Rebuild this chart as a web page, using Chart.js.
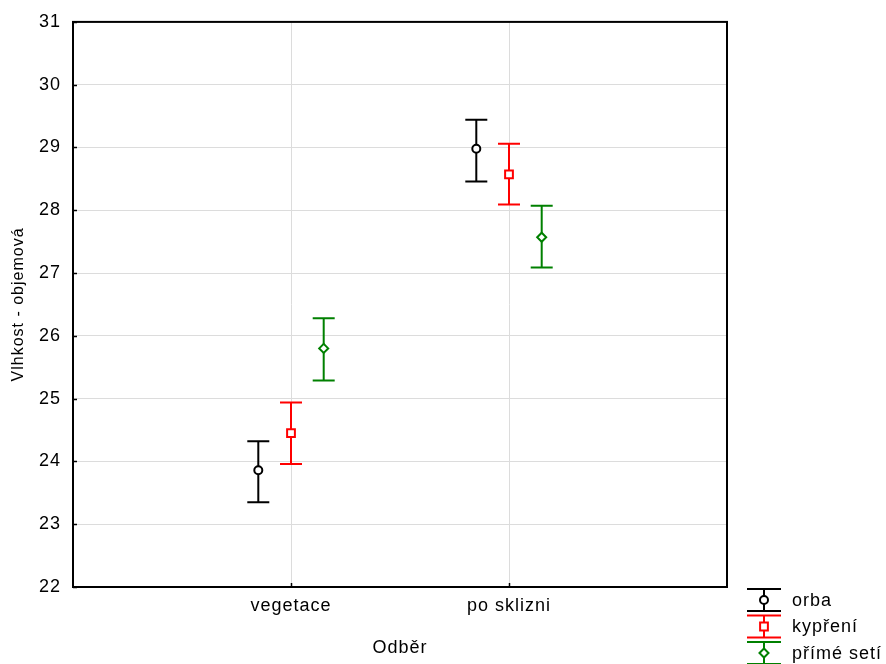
<!DOCTYPE html>
<html>
<head>
<meta charset="utf-8">
<script src="https://cdn.jsdelivr.net/npm/chart.js@4.4.1/dist/chart.umd.min.js"></script>
<style>
  html, body { margin: 0; padding: 0; background: #fff; }
</style>
</head>
<body>
<canvas id="myChart" width="886" height="664"></canvas>
<script>
// categories on x axis
var categories = ["vegetace", "po sklizni"];
var seriesNames = ["orba", "kypření", "přímé setí"];

// means and error bar ends, one value per category
var orbaMean = [23.86, 28.98];
var orbaLow  = [23.35, 28.46];
var orbaHigh = [24.32, 29.44];

var kypreniMean = [24.45, 28.57];
var kypreniLow  = [23.96, 28.09];
var kypreniHigh = [24.94, 29.06];

var primeMean = [25.80, 27.57];
var primeLow  = [25.29, 27.09];
var primeHigh = [26.28, 28.07];

var yTicks = [22, 23, 24, 25, 26, 27, 28, 29, 30, 31];

var colors = ["#000000", "#ff0000", "#008000"];
var styles = ["circle", "rect", "rectRot"];
var radii = [4, 5.5, 4.5];
var shift = [-0.15, 0, 0.15];

var means = [orbaMean, kypreniMean, primeMean];
var lows = [orbaLow, kypreniLow, primeLow];
var highs = [orbaHigh, kypreniHigh, primeHigh];

var FONT = 'Arial, "Liberation Sans", sans-serif';

var datasets = [];
for (var s = 0; s < seriesNames.length; s++) {
  var pts = [];
  for (var c = 0; c < categories.length; c++) {
    pts.push({ x: c + 1 + shift[s], y: means[s][c], lo: lows[s][c], hi: highs[s][c] });
  }
  datasets.push({
    label: seriesNames[s],
    data: pts,
    showLine: false,
    pointStyle: styles[s],
    pointRadius: radii[s],
    pointBorderWidth: 2,
    pointBorderColor: colors[s],
    pointBackgroundColor: "#ffffff",
    borderColor: colors[s]
  });
}

var errorBars = {
  id: "errorBars",
  beforeDraw: function(chart) {
    chart.ctx.letterSpacing = "1px";
  },
  beforeDatasetsDraw: function(chart) {
    var ctx = chart.ctx, xs = chart.scales.x, ys = chart.scales.y;
    ctx.save();
    ctx.lineWidth = 2;
    chart.data.datasets.forEach(function(ds) {
      ctx.strokeStyle = ds.borderColor;
      ds.data.forEach(function(p) {
        var px = xs.getPixelForValue(p.x);
        var top = ys.getPixelForValue(p.hi);
        var bot = ys.getPixelForValue(p.lo);
        ctx.beginPath();
        ctx.moveTo(px, top); ctx.lineTo(px, bot);
        ctx.moveTo(px - 11, top); ctx.lineTo(px + 11, top);
        ctx.moveTo(px - 11, bot); ctx.lineTo(px + 11, bot);
        ctx.stroke();
      });
    });
    ctx.restore();
  },
  afterDraw: function(chart) {
    var ctx = chart.ctx, a = chart.chartArea;
    var xs = chart.scales.x, ys = chart.scales.y;
    ctx.save();
    // frame
    ctx.strokeStyle = "#000";
    ctx.lineWidth = 2;
    ctx.strokeRect(a.left, a.top, a.right - a.left, a.bottom - a.top);
    // inward ticks
    ctx.lineWidth = 1.5;
    ctx.beginPath();
    yTicks.forEach(function(v) {
      var py = Math.round(ys.getPixelForValue(v)) + 0.5;
      ctx.moveTo(a.left, py); ctx.lineTo(a.left + 4, py);
    });
    for (var c = 0; c < categories.length; c++) {
      var px = Math.round(xs.getPixelForValue(c + 1)) + 0.5;
      ctx.moveTo(px, a.bottom); ctx.lineTo(px, a.bottom - 4);
    }
    ctx.stroke();

    // legend
    var lx = 764, tx = 792;
    var rowY = [600, 626.5, 653];
    ctx.font = "18px " + FONT;
    ctx.textBaseline = "middle";
    ctx.textAlign = "left";
    chart.data.datasets.forEach(function(ds, i) {
      var cy = rowY[i];
      ctx.strokeStyle = ds.borderColor;
      ctx.lineWidth = 2;
      ctx.beginPath();
      ctx.moveTo(lx - 17, cy - 11); ctx.lineTo(lx + 17, cy - 11);
      ctx.moveTo(lx - 17, cy + 11); ctx.lineTo(lx + 17, cy + 11);
      ctx.moveTo(lx, cy - 11); ctx.lineTo(lx, cy + 11);
      ctx.stroke();
      ctx.fillStyle = "#fff";
      Chart.helpers.drawPoint(ctx, { pointStyle: ds.pointStyle, radius: ds.pointRadius, borderWidth: 2, rotation: 0 }, lx, cy);
      ctx.fillStyle = "#000";
      ctx.fillText(ds.label, tx, cy + 1);
    });
    ctx.restore();
  }
};

var ctx = document.getElementById("myChart");
var myChart = new Chart(ctx, {
  type: "scatter",
  data: { datasets: datasets },
  plugins: [errorBars],
  options: {
    responsive: false,
    animation: false,
    events: [],
    layout: { padding: { top: 10, right: 159, left: 0, bottom: 0 } },
    plugins: { legend: { display: false }, tooltip: { enabled: false } },
    scales: {
      x: {
        type: "linear",
        min: 0,
        max: 3,
        afterBuildTicks: function(scale) {
          scale.ticks = categories.map(function(c, i) { return { value: i + 1 }; });
        },
        afterFit: function(scale) { scale.height = 77; },
        grid: { color: "#dcdcdc", lineWidth: 1, drawTicks: false },
        border: { display: false },
        ticks: {
          padding: 8,
          color: "#000",
          font: { family: FONT, size: 18 },
          maxRotation: 0,
          callback: function(v) { return categories[v - 1] || ""; }
        },
        title: {
          display: true,
          text: "Odběr",
          color: "#000",
          font: { family: FONT, size: 18 },
          padding: { top: 5, bottom: 5 }
        }
      },
      y: {
        min: 22,
        max: 31,
        afterFit: function(scale) { scale.width = 73; },
        grid: { color: "#dcdcdc", lineWidth: 1, drawTicks: false },
        border: { display: false },
        ticks: {
          stepSize: 1,
          padding: 12,
          color: "#000",
          font: { family: FONT, size: 18, lineHeight: 1.1 }
        },
        title: {
          display: true,
          text: "Vlhkost - objemová",
          color: "#000",
          font: { family: FONT, size: 16 },
          padding: { top: 9, bottom: 5 }
        }
      }
    }
  }
});
</script>
</body>
</html>
